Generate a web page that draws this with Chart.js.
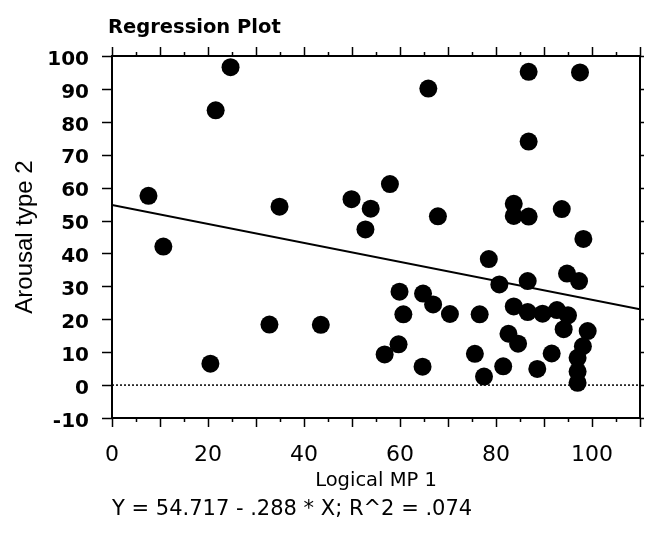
<!DOCTYPE html>
<html>
<head>
<meta charset="utf-8">
<script src="https://cdn.jsdelivr.net/npm/chart.js@4/dist/chart.umd.min.js"></script>
<style>
  html, body { margin: 0; padding: 0; background: #fff; }
  canvas { display: block; }
</style>
</head>
<body>
<canvas id="chart" width="649" height="535"></canvas>
<script>
// Observations: Logical MP 1 (x) against Arousal type 2 (y)
const logicalMP1 = [
  24.7, 21.6, 7.6, 34.9, 10.7, 20.5, 32.8, 43.5, 65.9, 86.8,
  97.5, 86.8, 57.9, 49.9, 53.9, 52.8, 67.9, 83.7, 83.7, 86.8,
  93.7, 98.2, 78.5, 59.9, 60.7, 59.7, 56.8, 64.8, 66.9, 70.4,
  64.7, 76.6, 75.6, 77.5, 80.7, 86.6, 94.8, 97.3, 83.7, 86.6,
  89.7, 92.7, 95.0, 94.1, 82.6, 84.6, 91.6, 81.5, 88.6, 99.1,
  98.1, 97.0, 97.0, 97.0
];
const arousalType2 = [
  96.6, 83.5, 57.5, 54.2, 42.1, 6.5, 18.4, 18.3, 90.1, 95.2,
  95.0, 74.0, 61.1, 56.5, 53.6, 47.3, 51.3, 55.1, 51.4, 51.2,
  53.5, 44.4, 38.3, 28.4, 21.5, 12.4, 9.3, 27.8, 24.5, 21.6,
  5.6, 21.5, 9.5, 2.6, 30.6, 31.6, 33.9, 31.6, 23.9, 22.2,
  21.7, 22.8, 21.2, 17.0, 15.6, 12.6, 9.6, 5.7, 4.9, 16.4,
  11.8, 8.3, 4.1, 0.7
];

// Fitted line: Y = 54.717 - .288 * X
const fitIntercept = 54.717;
const fitSlope = -0.288;

// Axis ranges and tick values
const xRange = [0, 110];
const yRange = [-10, 100];
const xTickValues = [0, 20, 40, 60, 80, 100];
const yTickValues = [-10, 0, 10, 20, 30, 40, 50, 60, 70, 80, 90, 100];
const xMarkStep = 5;
const yMarkStep = 10;

const points = logicalMP1.map((x, i) => ({ x, y: arousalType2[i] }));
const fitLine = xRange.map(x => ({ x, y: fitIntercept + fitSlope * x }));
const zeroLine = xRange.map(x => ({ x, y: 0 }));

const whiteBackground = {
  id: 'whiteBackground',
  beforeDraw(chart) {
    const { ctx, width, height } = chart;
    ctx.save();
    ctx.fillStyle = '#fff';
    ctx.fillRect(0, 0, width, height);
    ctx.restore();
  }
};

// Nudge the heading a little left of the plot edge
const titleNudge = {
  id: 'titleNudge',
  afterLayout(chart) {
    const t = chart.titleBlock;
    if (t) { t.left -= 4; t.right -= 4; }
  }
};

// Box around the plot plus tick marks on all four sides
const plotFrame = {
  id: 'plotFrame',
  beforeDatasetsDraw(chart) {
    const { ctx, chartArea: a, scales: { x, y } } = chart;
    ctx.save();
    ctx.strokeStyle = '#000';
    ctx.lineWidth = 2;
    ctx.strokeRect(a.left, a.top, a.right - a.left, a.bottom - a.top);
    ctx.lineWidth = 1.5;
    ctx.beginPath();
    for (let v = x.min; v <= x.max + 1e-9; v += xMarkStep) {
      const px = Math.round(x.getPixelForValue(v)) + 0.5;
      const len = v % 10 === 0 ? 9 : 4;
      ctx.moveTo(px, a.bottom); ctx.lineTo(px, a.bottom + len);
      ctx.moveTo(px, a.top); ctx.lineTo(px, a.top - len);
    }
    for (let v = y.min; v <= y.max + 1e-9; v += yMarkStep) {
      const py = Math.round(y.getPixelForValue(v)) + 0.5;
      ctx.moveTo(a.left, py); ctx.lineTo(a.left - 10, py);
      ctx.moveTo(a.right, py); ctx.lineTo(a.right + 4, py);
    }
    ctx.stroke();
    ctx.restore();
  }
};

new Chart(document.getElementById('chart'), {
  type: 'scatter',
  data: {
    datasets: [
      {
        data: points,
        pointRadius: 9,
        pointHoverRadius: 9,
        pointBackgroundColor: '#000',
        pointBorderColor: '#000',
        pointBorderWidth: 0
      },
      {
        data: fitLine,
        showLine: true,
        borderColor: '#000',
        borderWidth: 2,
        pointRadius: 0
      },
      {
        data: zeroLine,
        showLine: true,
        borderColor: '#000',
        borderWidth: 1.5,
        borderDash: [2, 2],
        pointRadius: 0
      }
    ]
  },
  options: {
    responsive: false,
    animation: false,
    events: [],
    layout: { padding: { left: 0, right: 4, top: 0, bottom: 0 } },
    plugins: {
      legend: { display: false },
      tooltip: { enabled: false },
      title: {
        display: true,
        text: 'Regression Plot',
        align: 'start',
        fullSize: false,
        color: '#000',
        font: { family: 'DejaVu Sans', size: 19.5, weight: 'bold', lineHeight: 1.2 },
        padding: { top: 16, bottom: 16.6 }
      },
      subtitle: {
        display: true,
        position: 'bottom',
        text: 'Y = 54.717 - .288 * X; R^2 = .074',
        align: 'start',
        fullSize: false,
        color: '#000',
        font: { family: 'DejaVu Sans', size: 21, lineHeight: 1.2 },
        padding: { top: 4, bottom: 12.8 }
      }
    },
    scales: {
      x: {
        type: 'linear',
        position: 'bottom',
        min: xRange[0],
        max: xRange[1],
        grid: { display: false, drawTicks: false },
        border: { display: false },
        afterBuildTicks(scale) { scale.ticks = xTickValues.map(v => ({ value: v })); },
        ticks: {
          color: '#000',
          padding: 24,
          maxRotation: 0,
          font: { family: 'DejaVu Sans', size: 22 }
        },
        title: {
          display: true,
          text: 'Logical MP 1',
          color: '#000',
          font: { family: 'DejaVu Sans', size: 19.5, lineHeight: 1.2 },
          padding: { top: 0, bottom: 0 }
        },
        afterFit(scale) { scale.height = 75; }
      },
      y: {
        type: 'linear',
        position: 'left',
        min: yRange[0],
        max: yRange[1],
        grid: { display: false, drawTicks: false },
        border: { display: false },
        afterBuildTicks(scale) { scale.ticks = yTickValues.map(v => ({ value: v })); },
        ticks: {
          color: '#000',
          padding: 23,
          labelOffset: 3.5,
          font: { family: 'DejaVu Sans', size: 20, weight: 'bold' }
        },
        title: {
          display: true,
          text: 'Arousal type 2',
          color: '#000',
          font: { family: 'Liberation Sans', size: 24, lineHeight: 1.2 },
          padding: { top: 11.2, bottom: 0 }
        },
        afterFit(scale) { scale.width = 112; }
      }
    }
  },
  plugins: [whiteBackground, titleNudge, plotFrame]
});
</script>
</body>
</html>
